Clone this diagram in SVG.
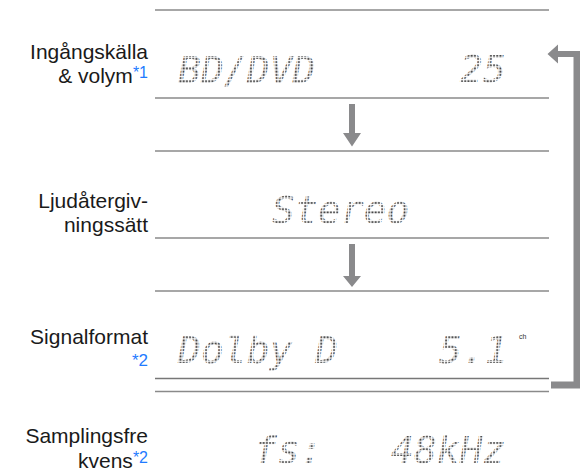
<svg xmlns="http://www.w3.org/2000/svg" width="582" height="476" viewBox="0 0 582 476">
<style>
.lbl{font-family:"Liberation Sans",Arial,sans-serif;font-size:21px;fill:#1a1a1a;text-anchor:end}
.ref{fill:#1f7bff;font-size:16px}
.lcd{font-family:"DejaVu Sans Mono","Liberation Mono",monospace;font-size:38px;font-style:oblique;fill:url(#dots)}
.rule{stroke:#8a8a8a;stroke-width:1.6;fill:none}
.arr{fill:#8a8a8c}
</style>
<defs>
<pattern id="dots" x="0" y="0" width="3.2" height="3.2" patternUnits="userSpaceOnUse">
<rect x="0.3" y="0.3" width="1.9" height="1.9" fill="#3a3a3a"/>
</pattern>
</defs>
<rect width="582" height="476" fill="#ffffff"/>
<g id="rules">
<line class="rule" x1="155" y1="10" x2="549" y2="10"/>
<line class="rule" x1="155" y1="98" x2="549" y2="98"/>
<line class="rule" x1="155" y1="151" x2="549" y2="151"/>
<line class="rule" x1="155" y1="238" x2="549" y2="238"/>
<line class="rule" x1="155" y1="291" x2="549" y2="291"/>
<line class="rule" x1="155" y1="378.5" x2="549" y2="378.5" style="stroke-width:1.3;stroke:#777"/>
<line class="rule" x1="155" y1="391.5" x2="549" y2="391.5"/>
</g>
<g id="node-input">
<text class="lbl" x="148" y="59">Ingångskälla</text>
<text class="lbl" x="148" y="83">&amp; volym<tspan class="ref" dy="-5">*1</tspan></text>
<text class="lcd" x="178" y="83">BD/DVD</text>
<text class="lcd" x="460" y="82">25</text>
</g>
<g id="node-mode">
<text class="lbl" x="148" y="208">Ljudåtergiv-</text>
<text class="lbl" x="148" y="232">ningssätt</text>
<text class="lcd" x="272" y="223">Stereo</text>
</g>
<g id="node-format">
<text class="lbl" x="148" y="344">Signalformat</text>
<text class="lbl ref" x="148" y="366" style="font-size:17px">*2</text>
<text class="lcd" x="178" y="363">Dolby D</text>
<text class="lcd" x="439" y="363">5.1</text>
<text x="519" y="339" style="font-family:'Liberation Sans',Arial,sans-serif;font-size:7px;fill:#333">ch</text>
</g>
<g id="node-fs">
<text class="lbl" x="148" y="443">Samplingsfre</text>
<text class="lbl" x="148" y="468">kvens<tspan class="ref" dy="-5">*2</tspan></text>
<text class="lcd" x="254" y="463">fs:</text>
<text class="lcd" x="391" y="463">48kHz</text>
</g>
<g id="connectors">
<path class="arr" d="M349 104 H355 V133 H361 L352 146.5 L343 133 H349 Z"/>
<path class="arr" d="M349 244 H355 V276 H361 L352 287 L343 276 H349 Z"/>
<path class="arr" d="M551 381.5 H573.5 V57 H558 V63.5 L547.5 54 L558 44.5 V51 H580 V388.5 H551 Z"/>
</g>
</svg>
